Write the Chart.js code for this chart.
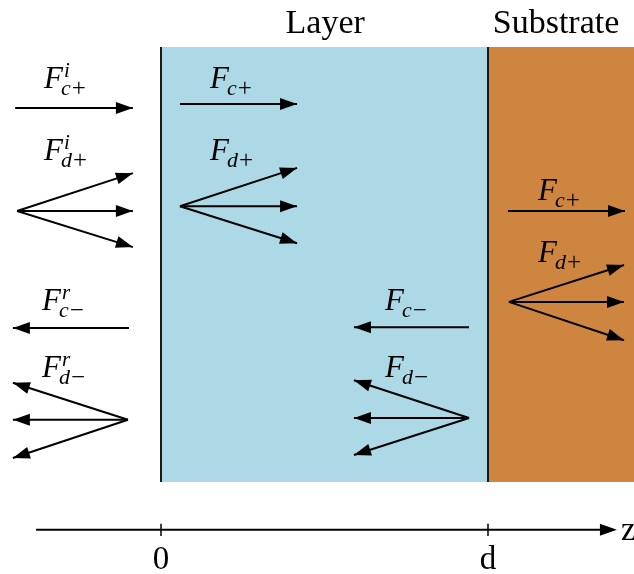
<!DOCTYPE html>
<html>
<head>
<meta charset="utf-8">
<script src="https://cdn.jsdelivr.net/npm/chart.js@4"></script>
<style>
  html, body { margin: 0; padding: 0; background: #fff; }
  #wrap { width: 634px; height: 574px; }
</style>
</head>
<body>
<div id="wrap"><canvas id="myChart" width="634" height="574"></canvas></div>
<script>
// z is measured in units of the layer thickness d, y in arbitrary rows (layer height = 10)
const xRange = [-0.4924, 1.4465];
const yRange = [-2.115, 11.08];

// regions: layer 0..d, substrate d..edge
const regionNames = ["Layer", "Substrate"];
const regionStart = [0, 1];
const regionEnd = [1, 1.4465];
const regionTop = 10;
const regionBottom = 0;
const regionLabelX = [0.502, 1.208];
const regionLabelY = 10.34;

// arrow groups (fans of 1 or 3 arrows from one tail)
const tailX = [-0.446, -0.440, -0.098, -0.101, 0.058, 0.058, 0.942, 0.942, 1.061, 1.064];
const tailY = [8.60, 6.23, 3.54, 1.43, 8.69, 6.34, 3.56, 1.47, 6.23, 4.14];
const tipX = [-0.086, -0.086, -0.453, -0.453, 0.416, 0.416, 0.590, 0.590, 1.419, 1.416];
const tipY = [
  [8.60],
  [7.10, 6.23, 5.40],
  [3.54],
  [2.28, 1.43, 0.55],
  [8.69],
  [7.22, 6.34, 5.49],
  [3.56],
  [2.34, 1.47, 0.62],
  [6.23],
  [4.99, 4.14, 3.26],
];

// labels F_{sub}^{sup}
const labelSub = ["c+", "d+", "c\u2212", "d\u2212", "c+", "d+", "c\u2212", "d\u2212", "c+", "d+"];
const labelSup = ["i", "i", "r", "r", "", "", "", "", "", ""];
const labelX = [-0.358, -0.358, -0.364, -0.364, 0.150, 0.150, 0.685, 0.685, 1.153, 1.153];
const labelY = [9.06, 7.40, 3.95, 2.41, 9.06, 7.40, 3.95, 2.41, 6.48, 5.06];

// z axis at the bottom
const axisY = -1.10;
const axisFrom = -0.382;
const axisTo = 1.382;
const axisTicks = [0, 1];
const axisTickLabels = ["0", "d"];
const axisTickLabelY = -1.99;
const axisName = "z";

const layerColor = "#add8e6";
const substrateColor = "#cd853f";
const serif = '"Liberation Serif", "DejaVu Serif", serif';

// shafts and boundary lines go in as line datasets
const datasets = [];
tailX.forEach((tx, i) => {
  tipY[i].forEach((ty) => {
    datasets.push({
      data: [{ x: tx, y: tailY[i] }, { x: tipX[i], y: ty }],
      showLine: true,
      borderColor: "#000",
      borderWidth: 2,
      pointRadius: 0,
    });
  });
});
regionStart.forEach((x) => {
  datasets.push({
    data: [{ x: x, y: regionBottom }, { x: x, y: regionTop }],
    showLine: true,
    borderColor: "#1a1a1a",
    borderWidth: 2,
    pointRadius: 0,
  });
});
datasets.push({
  data: [{ x: axisFrom, y: axisY }, { x: axisTo, y: axisY }],
  showLine: true,
  borderColor: "#000",
  borderWidth: 2,
  pointRadius: 0,
});
axisTicks.forEach((t) => {
  datasets.push({
    data: [{ x: t, y: axisY - 0.14 }, { x: t, y: axisY + 0.14 }],
    showLine: true,
    borderColor: "#000",
    borderWidth: 1.5,
    pointRadius: 0,
  });
});

function arrowHead(ctx, x0, y0, x1, y1) {
  const a = Math.atan2(y1 - y0, x1 - x0);
  const len = 17;
  const half = 6;
  ctx.beginPath();
  ctx.moveTo(x1, y1);
  ctx.lineTo(x1 - len * Math.cos(a) + half * Math.sin(a), y1 - len * Math.sin(a) - half * Math.cos(a));
  ctx.lineTo(x1 - len * Math.cos(a) - half * Math.sin(a), y1 - len * Math.sin(a) + half * Math.cos(a));
  ctx.closePath();
  ctx.fill();
}

function drawLabel(ctx, x, y, sub, sup) {
  ctx.textAlign = "left";
  ctx.textBaseline = "alphabetic";
  ctx.font = "italic 31px " + serif;
  ctx.fillText("F", x, y);
  const w = ctx.measureText("F").width;
  // subscript: letter italic, sign upright
  let sx = x + w - 2;
  ctx.font = "italic 22px " + serif;
  ctx.fillText(sub[0], sx, y + 7);
  sx += ctx.measureText(sub[0]).width + 1;
  ctx.font = "25px " + serif;
  ctx.fillText(sub.slice(1), sx, y + 8);
  if (sup) {
    ctx.font = "italic 21px " + serif;
    ctx.fillText(sup, x + w + 1, y - 11);
  }
}

const diagramPlugin = {
  id: "diagram",
  beforeDatasetsDraw(chart) {
    const ctx = chart.ctx;
    const xs = chart.scales.x;
    const ys = chart.scales.y;
    const colors = [layerColor, substrateColor];
    ctx.save();
    regionStart.forEach((x0, i) => {
      const px0 = xs.getPixelForValue(x0);
      const px1 = xs.getPixelForValue(regionEnd[i]);
      const py0 = ys.getPixelForValue(regionTop);
      const py1 = ys.getPixelForValue(regionBottom);
      ctx.fillStyle = colors[i];
      ctx.fillRect(px0, py0, px1 - px0, py1 - py0);
    });
    ctx.restore();
  },
  afterDatasetsDraw(chart) {
    const ctx = chart.ctx;
    const xs = chart.scales.x;
    const ys = chart.scales.y;
    ctx.save();
    ctx.fillStyle = "#000";

    // arrow heads
    tailX.forEach((tx, i) => {
      tipY[i].forEach((ty) => {
        arrowHead(ctx,
          xs.getPixelForValue(tx), ys.getPixelForValue(tailY[i]),
          xs.getPixelForValue(tipX[i]), ys.getPixelForValue(ty));
      });
    });
    arrowHead(ctx,
      xs.getPixelForValue(axisFrom), ys.getPixelForValue(axisY),
      xs.getPixelForValue(axisTo) + 4, ys.getPixelForValue(axisY));

    // F labels
    labelX.forEach((lx, i) => {
      drawLabel(ctx, xs.getPixelForValue(lx), ys.getPixelForValue(labelY[i]), labelSub[i], labelSup[i]);
    });

    // region titles
    ctx.font = "34px " + serif;
    ctx.textAlign = "center";
    ctx.textBaseline = "alphabetic";
    regionNames.forEach((name, i) => {
      ctx.fillText(name, xs.getPixelForValue(regionLabelX[i]), ys.getPixelForValue(regionLabelY) + 1);
    });

    // axis labels
    ctx.font = "33px " + serif;
    axisTicks.forEach((t, i) => {
      ctx.fillText(axisTickLabels[i], xs.getPixelForValue(t), ys.getPixelForValue(axisTickLabelY));
    });
    ctx.textAlign = "left";
    ctx.fillText(axisName, xs.getPixelForValue(axisTo) + 8, ys.getPixelForValue(axisY) + 10);
    ctx.restore();
  },
};

new Chart(document.getElementById("myChart"), {
  type: "scatter",
  data: { datasets: datasets },
  options: {
    responsive: false,
    animation: false,
    layout: { padding: 0 },
    plugins: { legend: { display: false }, tooltip: { enabled: false } },
    scales: {
      x: { type: "linear", display: false, min: xRange[0], max: xRange[1] },
      y: { type: "linear", display: false, min: yRange[0], max: yRange[1] },
    },
  },
  plugins: [diagramPlugin],
});
</script>
</body>
</html>
